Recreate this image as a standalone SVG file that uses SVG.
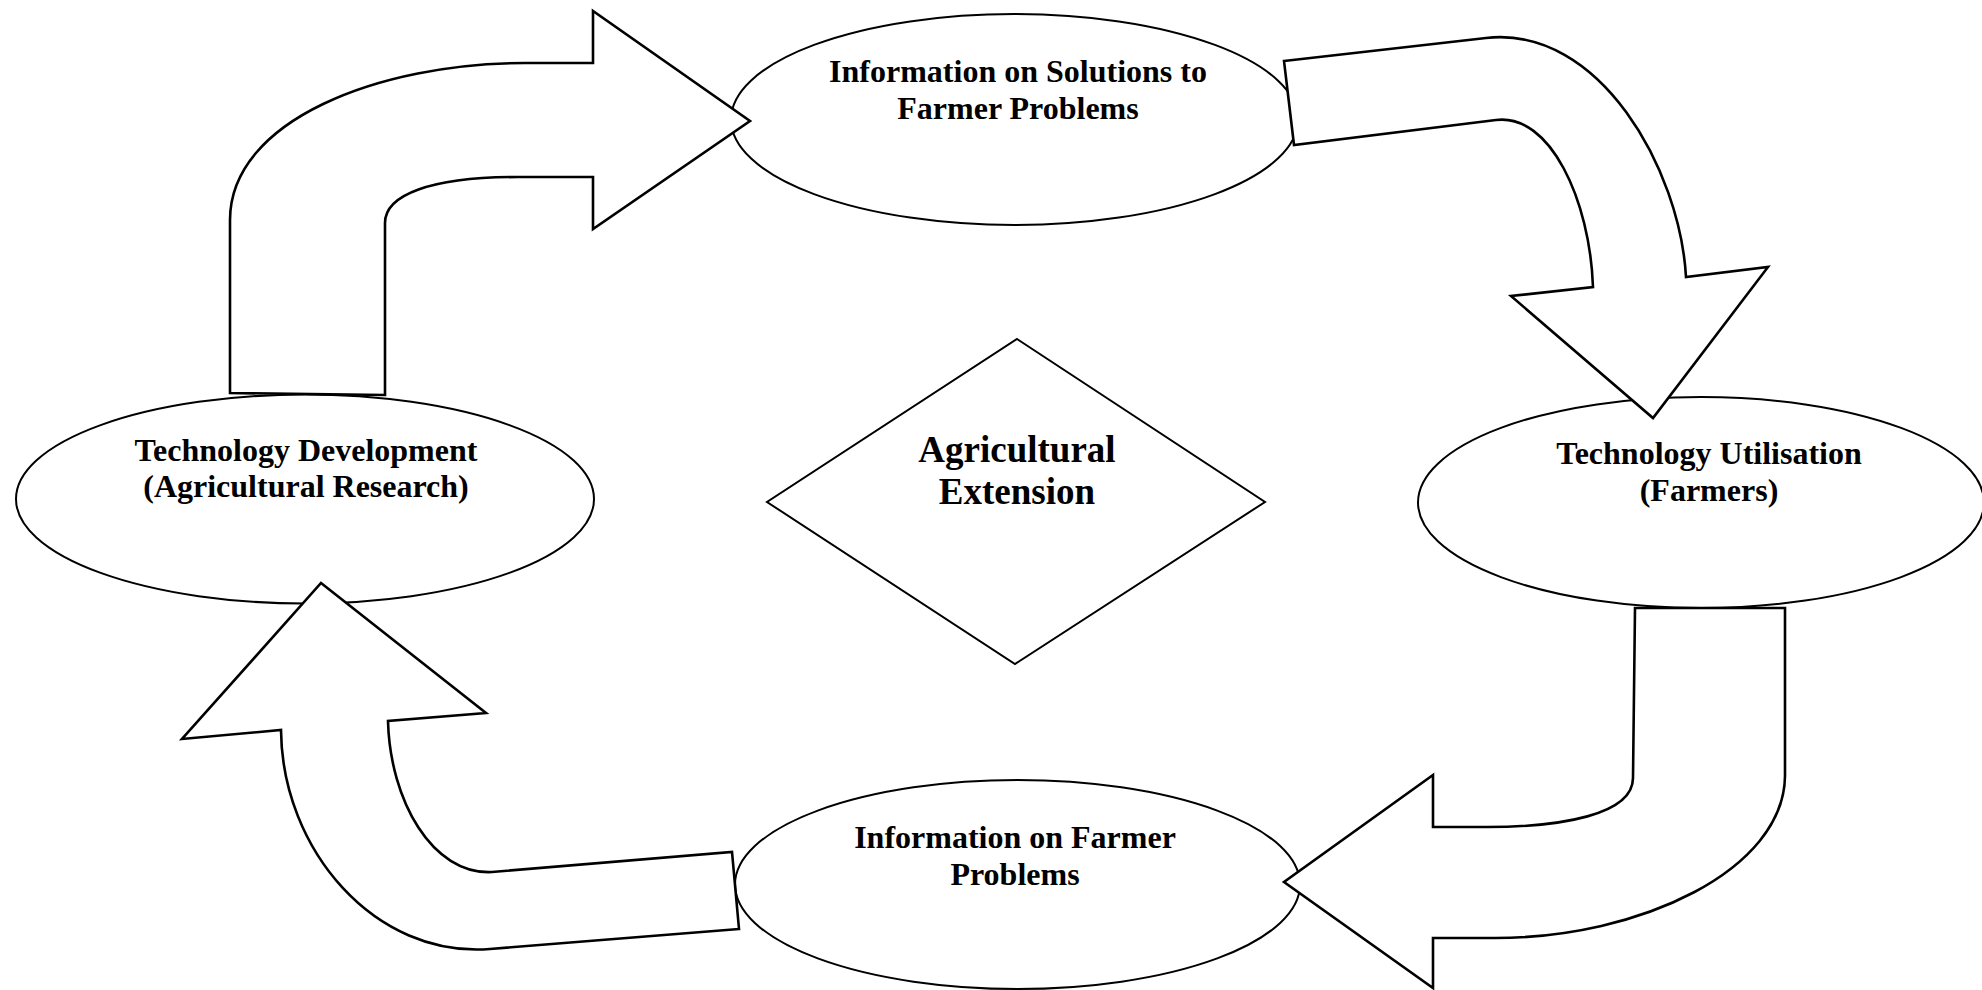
<svg xmlns="http://www.w3.org/2000/svg" width="1982" height="990" viewBox="0 0 1982 990">
  <style>
    .shape { fill: #ffffff; stroke: #000000; stroke-width: 2; }
    .flow { fill: #ffffff; stroke: #000000; stroke-width: 2.6; stroke-linejoin: miter; }
    .label { font-family: "Liberation Serif", "Times New Roman", serif; font-weight: bold; font-size: 32px; fill: #000000; text-anchor: middle; }
    .center-label { font-size: 37px; }
  </style>
  <rect x="0" y="0" width="1982" height="990" fill="#ffffff"/>

  <!-- cycle nodes -->
  <g id="node-solutions">
    <ellipse class="shape" cx="1014.5" cy="119.5" rx="283.5" ry="105.5"/>
    <text class="label" x="1018" y="82">Information on Solutions to</text>
    <text class="label" x="1018" y="119">Farmer Problems</text>
  </g>
  <g id="node-utilisation">
    <ellipse class="shape" cx="1701" cy="502.5" rx="283" ry="105.5"/>
    <text class="label" x="1709" y="464">Technology Utilisation</text>
    <text class="label" x="1709" y="501">(Farmers)</text>
  </g>
  <g id="node-problems">
    <ellipse class="shape" cx="1017.5" cy="884.5" rx="282.5" ry="104.5"/>
    <text class="label" x="1015" y="848">Information on Farmer</text>
    <text class="label" x="1015" y="885">Problems</text>
  </g>
  <g id="node-development">
    <ellipse class="shape" cx="305" cy="499" rx="289" ry="104.5"/>
    <text class="label" x="306" y="461">Technology Development</text>
    <text class="label" x="306" y="497">(Agricultural Research)</text>
  </g>
  <g id="node-extension">
    <polygon class="shape" points="1017,339 1265,502 1015,664 767,502"/>
    <text class="label center-label" x="1017" y="461.5">Agricultural</text>
    <text class="label center-label" x="1017" y="504">Extension</text>
  </g>

  <!-- block arrows linking the cycle -->
  <g id="connectors">
    <path id="arrow-development-to-solutions" class="flow"
      d="M 230,393 L 230,220 C 230,120 380,63 525,63 L 593,63 L 593,11 L 750,121 L 593,229 L 593,177 L 518,177 C 430,177 385,195 385,223 L 385,395 Z"/>
    <path id="arrow-solutions-to-utilisation" class="flow"
      d="M 1284,61 L 1486,38 C 1600,25 1680,170 1686,277 L 1768,267 L 1653,418 L 1511,296 L 1593,287 C 1590,200 1550,113 1496,120 L 1294,145 Z"/>
    <path id="arrow-utilisation-to-problems" class="flow"
      d="M 1635,608 L 1785,608 L 1785,776 C 1784,870 1640,938 1495,938 L 1433,938 L 1433,988 L 1284,882 L 1433,775 L 1433,827 L 1487,827 C 1560,827 1633,815 1633,778 Z"/>
    <path id="arrow-problems-to-development" class="flow"
      d="M 739,929 L 490,949 C 375,958 282,850 281,730 L 182,739 L 321,583 L 486,713 L 388,721 C 390,800 432,875 492,872 L 732,852 Z"/>
  </g>
</svg>
